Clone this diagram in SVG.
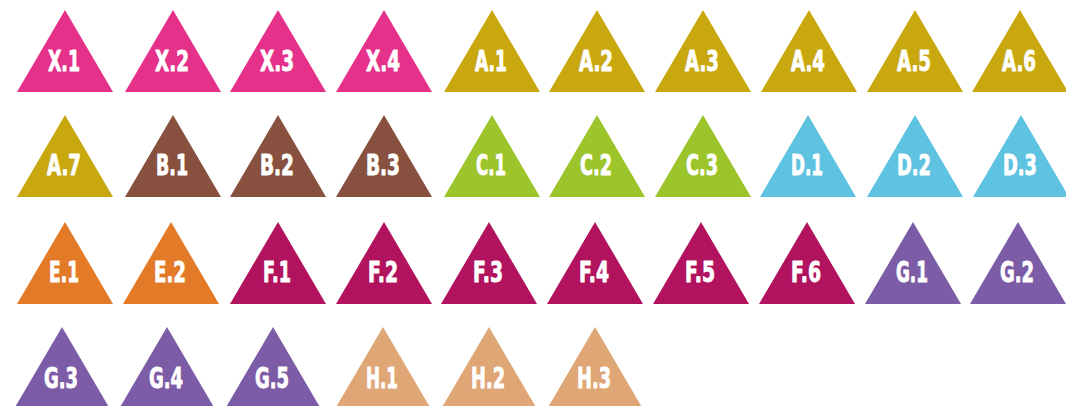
<svg xmlns="http://www.w3.org/2000/svg" xmlns:xlink="http://www.w3.org/1999/xlink" width="1066" height="406" viewBox="0 0 1066 406">
<style>
.x{fill:#E5318A}.a{fill:#C8A80E}.b{fill:#87503F}.c{fill:#9CC42B}.d{fill:#5EC3E1}.e{fill:#E27A28}.f{fill:#B1135F}.g{fill:#7C5CA6}.h{fill:#DFA676}
text{font-family:"DejaVu Sans Condensed","DejaVu Sans",sans-serif;font-weight:bold;font-size:28.5px;fill:#FFFFFF;stroke:#FFFFFF;stroke-width:0.9;stroke-linejoin:round;text-anchor:middle}
</style>
<defs>
<path id="tri" d="M0,0 L48,82 L-48,82 Z"/>
</defs>
<rect width="1066" height="406" fill="#FFFFFF"/>
<g id="connectors"/>
<g id="X1"><use xlink:href="#tri" x="65" y="10" class="x"/><text x="64" y="71" textLength="32" lengthAdjust="spacingAndGlyphs">X.1</text></g>
<g id="X2"><use xlink:href="#tri" x="173" y="10" class="x"/><text x="172" y="71" textLength="34" lengthAdjust="spacingAndGlyphs">X.2</text></g>
<g id="X3"><use xlink:href="#tri" x="278" y="10" class="x"/><text x="277" y="71" textLength="34" lengthAdjust="spacingAndGlyphs">X.3</text></g>
<g id="X4"><use xlink:href="#tri" x="384" y="10" class="x"/><text x="383" y="71" textLength="34" lengthAdjust="spacingAndGlyphs">X.4</text></g>
<g id="A1"><use xlink:href="#tri" x="492" y="10" class="a"/><text x="491" y="71" textLength="32" lengthAdjust="spacingAndGlyphs">A.1</text></g>
<g id="A2"><use xlink:href="#tri" x="597" y="10" class="a"/><text x="596" y="71" textLength="34" lengthAdjust="spacingAndGlyphs">A.2</text></g>
<g id="A3"><use xlink:href="#tri" x="703" y="10" class="a"/><text x="702" y="71" textLength="34" lengthAdjust="spacingAndGlyphs">A.3</text></g>
<g id="A4"><use xlink:href="#tri" x="809" y="10" class="a"/><text x="808" y="71" textLength="34" lengthAdjust="spacingAndGlyphs">A.4</text></g>
<g id="A5"><use xlink:href="#tri" x="915" y="10" class="a"/><text x="914" y="71" textLength="34" lengthAdjust="spacingAndGlyphs">A.5</text></g>
<g id="A6"><use xlink:href="#tri" x="1020" y="10" class="a"/><text x="1019" y="71" textLength="34" lengthAdjust="spacingAndGlyphs">A.6</text></g>
<g id="A7"><use xlink:href="#tri" x="65" y="115" class="a"/><text x="64" y="175" textLength="34" lengthAdjust="spacingAndGlyphs">A.7</text></g>
<g id="B1"><use xlink:href="#tri" x="173" y="115" class="b"/><text x="172" y="175" textLength="32" lengthAdjust="spacingAndGlyphs">B.1</text></g>
<g id="B2"><use xlink:href="#tri" x="278" y="115" class="b"/><text x="277" y="175" textLength="34" lengthAdjust="spacingAndGlyphs">B.2</text></g>
<g id="B3"><use xlink:href="#tri" x="384" y="115" class="b"/><text x="383" y="175" textLength="34" lengthAdjust="spacingAndGlyphs">B.3</text></g>
<g id="C1"><use xlink:href="#tri" x="492" y="115" class="c"/><text x="491" y="175" textLength="30" lengthAdjust="spacingAndGlyphs">C.1</text></g>
<g id="C2"><use xlink:href="#tri" x="597" y="115" class="c"/><text x="596" y="175" textLength="32" lengthAdjust="spacingAndGlyphs">C.2</text></g>
<g id="C3"><use xlink:href="#tri" x="703" y="115" class="c"/><text x="702" y="175" textLength="32" lengthAdjust="spacingAndGlyphs">C.3</text></g>
<g id="D1"><use xlink:href="#tri" x="808" y="115" class="d"/><text x="807" y="175" textLength="32" lengthAdjust="spacingAndGlyphs">D.1</text></g>
<g id="D2"><use xlink:href="#tri" x="915" y="115" class="d"/><text x="914" y="175" textLength="34" lengthAdjust="spacingAndGlyphs">D.2</text></g>
<g id="D3"><use xlink:href="#tri" x="1021" y="115" class="d"/><text x="1020" y="175" textLength="34" lengthAdjust="spacingAndGlyphs">D.3</text></g>
<g id="E1"><use xlink:href="#tri" x="65" y="222" class="e"/><text x="64" y="282" textLength="30" lengthAdjust="spacingAndGlyphs">E.1</text></g>
<g id="E2"><use xlink:href="#tri" x="171" y="222" class="e"/><text x="170" y="282" textLength="32" lengthAdjust="spacingAndGlyphs">E.2</text></g>
<g id="F1"><use xlink:href="#tri" x="278" y="222" class="f"/><text x="277" y="282" textLength="28" lengthAdjust="spacingAndGlyphs">F.1</text></g>
<g id="F2"><use xlink:href="#tri" x="384" y="222" class="f"/><text x="383" y="282" textLength="30" lengthAdjust="spacingAndGlyphs">F.2</text></g>
<g id="F3"><use xlink:href="#tri" x="489" y="222" class="f"/><text x="488" y="282" textLength="30" lengthAdjust="spacingAndGlyphs">F.3</text></g>
<g id="F4"><use xlink:href="#tri" x="595" y="222" class="f"/><text x="594" y="282" textLength="30" lengthAdjust="spacingAndGlyphs">F.4</text></g>
<g id="F5"><use xlink:href="#tri" x="701" y="222" class="f"/><text x="700" y="282" textLength="30" lengthAdjust="spacingAndGlyphs">F.5</text></g>
<g id="F6"><use xlink:href="#tri" x="807" y="222" class="f"/><text x="806" y="282" textLength="30" lengthAdjust="spacingAndGlyphs">F.6</text></g>
<g id="G1"><use xlink:href="#tri" x="913" y="222" class="g"/><text x="912" y="282" textLength="32" lengthAdjust="spacingAndGlyphs">G.1</text></g>
<g id="G2"><use xlink:href="#tri" x="1018" y="222" class="g"/><text x="1017" y="282" textLength="34" lengthAdjust="spacingAndGlyphs">G.2</text></g>
<g id="G3"><use xlink:href="#tri" x="62" y="327" class="g"/><text x="61" y="388" textLength="34" lengthAdjust="spacingAndGlyphs">G.3</text></g>
<g id="G4"><use xlink:href="#tri" x="167" y="327" class="g"/><text x="166" y="388" textLength="34" lengthAdjust="spacingAndGlyphs">G.4</text></g>
<g id="G5"><use xlink:href="#tri" x="273" y="327" class="g"/><text x="272" y="388" textLength="34" lengthAdjust="spacingAndGlyphs">G.5</text></g>
<g id="H1"><use xlink:href="#tri" x="383" y="327" class="h"/><text x="382" y="388" textLength="32" lengthAdjust="spacingAndGlyphs">H.1</text></g>
<g id="H2"><use xlink:href="#tri" x="489" y="327" class="h"/><text x="488" y="388" textLength="34" lengthAdjust="spacingAndGlyphs">H.2</text></g>
<g id="H3"><use xlink:href="#tri" x="595" y="327" class="h"/><text x="594" y="388" textLength="34" lengthAdjust="spacingAndGlyphs">H.3</text></g>
</svg>
